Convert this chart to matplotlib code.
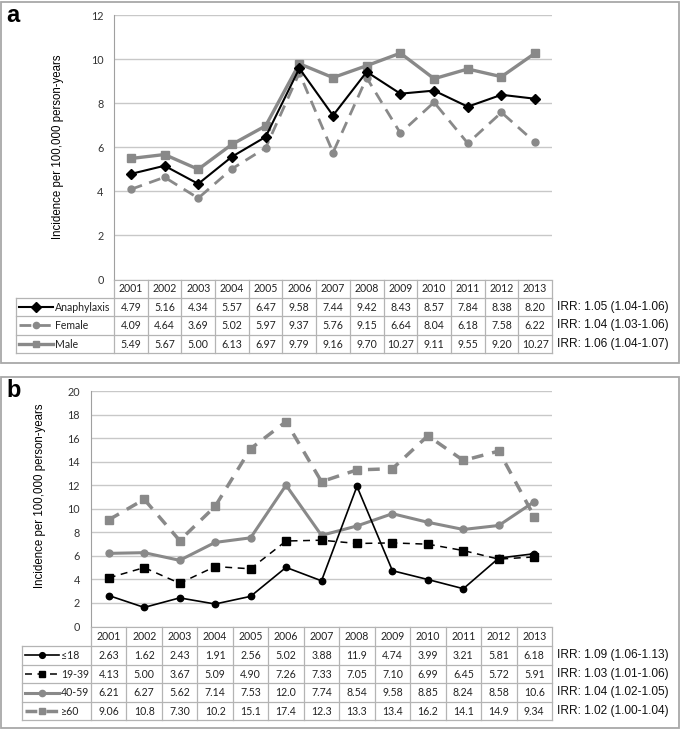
import matplotlib
matplotlib.use("Agg")
import matplotlib.pyplot as plt
from matplotlib.patches import Rectangle

plt.rcParams['lines.scale_dashes'] = False

# ---------------- data ----------------
years = [str(y) for y in range(2001, 2014)]

a_labels = ["Anaphylaxis", "Female", "Male"]
a_anaphylaxis = [4.79, 5.16, 4.34, 5.57, 6.47, 9.58, 7.44, 9.42, 8.43, 8.57, 7.84, 8.38, 8.20]
a_female = [4.09, 4.64, 3.69, 5.02, 5.97, 9.37, 5.76, 9.15, 6.64, 8.04, 6.18, 7.58, 6.22]
a_male = [5.49, 5.67, 5.00, 6.13, 6.97, 9.79, 9.16, 9.70, 10.27, 9.11, 9.55, 9.20, 10.27]
a_irr = ["IRR: 1.05 (1.04-1.06)", "IRR: 1.04 (1.03-1.06)", "IRR: 1.06 (1.04-1.07)"]

b_labels = ["\u226418", "19-39", "40-59", "\u226560"]
b_le18 = [2.63, 1.62, 2.43, 1.91, 2.56, 5.02, 3.88, 11.9, 4.74, 3.99, 3.21, 5.81, 6.18]
b_19_39 = [4.13, 5.00, 3.67, 5.09, 4.90, 7.26, 7.33, 7.05, 7.10, 6.99, 6.45, 5.72, 5.91]
b_40_59 = [6.21, 6.27, 5.62, 7.14, 7.53, 12.0, 7.74, 8.54, 9.58, 8.85, 8.24, 8.58, 10.6]
b_ge60 = [9.06, 10.8, 7.30, 10.2, 15.1, 17.4, 12.3, 13.3, 13.4, 16.2, 14.1, 14.9, 9.34]
b_irr = ["IRR: 1.09 (1.06-1.13)", "IRR: 1.03 (1.01-1.06)",
         "IRR: 1.04 (1.02-1.05)", "IRR: 1.02 (1.00-1.04)"]

ylabel_text = "Incidence per 100,000 person-years"

# ---------------- styling ----------------
W, H = 685, 738
DPI = 100
BLACK = '#000000'
GRAY = '#898989'
GRID = '#c8c8c8'
TBL = '#b4b4b4'
BOX = '#a8a8a8'
TXT = '#222222'
NUM_FONT = ['Lato', 'DejaVu Sans']
SANS = ['Liberation Sans', 'DejaVu Sans']

a_styles = [
    dict(color=BLACK, lw=1.5, marker='D', ms=5.5, ls='-', zorder=5),
    dict(color=GRAY, lw=2.0, marker='o', ms=5.0, ls=(0, (8.5, 5.5)), zorder=3),
    dict(color=GRAY, lw=2.4, marker='s', ms=5.2, ls='-', zorder=4),
]
b_styles = [
    dict(color=BLACK, lw=1.2, marker='o', ms=4.6, ls='-', zorder=5),
    dict(color=BLACK, lw=1.1, marker='s', ms=5.2, ls=(0, (5, 4)), zorder=4),
    dict(color=GRAY, lw=2.2, marker='o', ms=5.0, ls='-', zorder=3),
    dict(color=GRAY, lw=2.5, marker='s', ms=5.4, ls=(0, (8.5, 6.5)), zorder=2),
]

fig = plt.figure(figsize=(W / DPI, H / DPI), dpi=DPI)
fig.patch.set_facecolor('white')

ov = fig.add_axes([0, 0, 1, 1])
ov.set_xlim(0, W)
ov.set_ylim(H, 0)
ov.axis('off')
ov.patch.set_visible(False)
ov.set_zorder(5)


def px2fig(l, r, t, b):
    return [l / W, 1 - b / H, (r - l) / W, (b - t) / H]


def panel(letter, box, plot, ymax, series, styles, labels, irr, fmt,
          legend_left, header_bottom, row_h, ylabel_xy, tick_pad):
    bl, bt, br, bb = box
    ov.add_patch(Rectangle((bl, bt), br - bl, bb - bt, fill=False, ec=BOX, lw=1.3))
    ov.text(bl + 5, bt + 2, letter, fontsize=17, fontweight='bold', family=SANS,
            va='top', ha='left', color=BLACK)

    L, R, T, B = plot
    ax = fig.add_axes(px2fig(L, R, T, B))
    n = len(years)
    ax.set_xlim(-0.5, n - 0.5)
    ax.set_ylim(0, ymax)
    ax.set_yticks(range(0, ymax + 1, 2))
    ax.set_xticks([])
    ax.yaxis.grid(True, color=GRID, lw=1.0)
    ax.set_axisbelow(True)
    for s in ['top', 'right']:
        ax.spines[s].set_visible(False)
    ax.spines['left'].set_color('#a0a0a0')
    ax.spines['bottom'].set_color(TBL)
    ax.tick_params(axis='y', length=0, pad=tick_pad, labelsize=7.8, labelcolor='#333333')
    for t in ax.get_yticklabels():
        t.set_fontfamily(NUM_FONT)
    ax.patch.set_visible(False)

    xs = list(range(n))
    for vals, st in zip(series, styles):
        ax.plot(xs, vals, clip_on=False, **st)

    ov.text(ylabel_xy[0], ylabel_xy[1], ylabel_text, rotation=90, ha='center',
            va='center', fontsize=8.3, family=SANS, color=BLACK)

    # ---- data table ----
    col_w = (R - L) / n
    nrows = len(series)
    bottom = header_bottom + nrows * row_h
    for i in range(n + 1):
        x = L + i * col_w
        ov.plot([x, x], [B, bottom], color=TBL, lw=0.9)
    ov.plot([legend_left, legend_left], [header_bottom, bottom], color=TBL, lw=0.9)
    for r in range(nrows + 1):
        y = header_bottom + r * row_h
        ov.plot([legend_left, R], [y, y], color=TBL, lw=0.9)
    for i, yr in enumerate(years):
        ov.text(L + (i + 0.5) * col_w, (B + header_bottom) / 2 + 0.5, yr,
                ha='center', va='center', fontsize=7.6, family=NUM_FONT, color=TXT)
    for r, (vals, st, lab, ir) in enumerate(zip(series, styles, labels, irr)):
        yc = header_bottom + (r + 0.5) * row_h
        for i, v in enumerate(vals):
            ov.text(L + (i + 0.5) * col_w, yc + 0.5, fmt(v), ha='center', va='center',
                    fontsize=7.6, family=NUM_FONT, color=TXT)
        x0, x1 = legend_left + 3, legend_left + 37
        ov.plot([x0, x1], [yc, yc], color=st['color'], lw=st['lw'], ls=st['ls'])
        ov.plot([(x0 + x1) / 2], [yc], color=st['color'], marker=st['marker'],
                ms=st['ms'] * 0.9, ls='none')
        ov.text(x1 + 2, yc + 0.5, lab, ha='left', va='center', fontsize=7.6,
                family=NUM_FONT, color=TXT)
        ov.text(R + 5, yc, ir, ha='left', va='center', fontsize=8.6, family=SANS,
                color='#111111')
    return ax


def fmt_a(v):
    return f"{v:.2f}"


def fmt_b(v):
    return f"{v:.2f}" if v < 10 else f"{v:.1f}"


panel('a', (1.5, 1.5, 679, 363), (114, 552, 15, 279.5), 12,
      [a_anaphylaxis, a_female, a_male], a_styles, a_labels, a_irr, fmt_a,
      16, 297.5, 18.5, (58, 147), 7.5)

panel('b', (1.5, 377, 679, 728), (91, 552, 391, 626.5), 20,
      [b_le18, b_19_39, b_40_59, b_ge60], b_styles, b_labels, b_irr, fmt_b,
      22, 646, 18.6, (40, 496), 8.0)

fig.savefig("out.png", dpi=DPI, facecolor='white')
